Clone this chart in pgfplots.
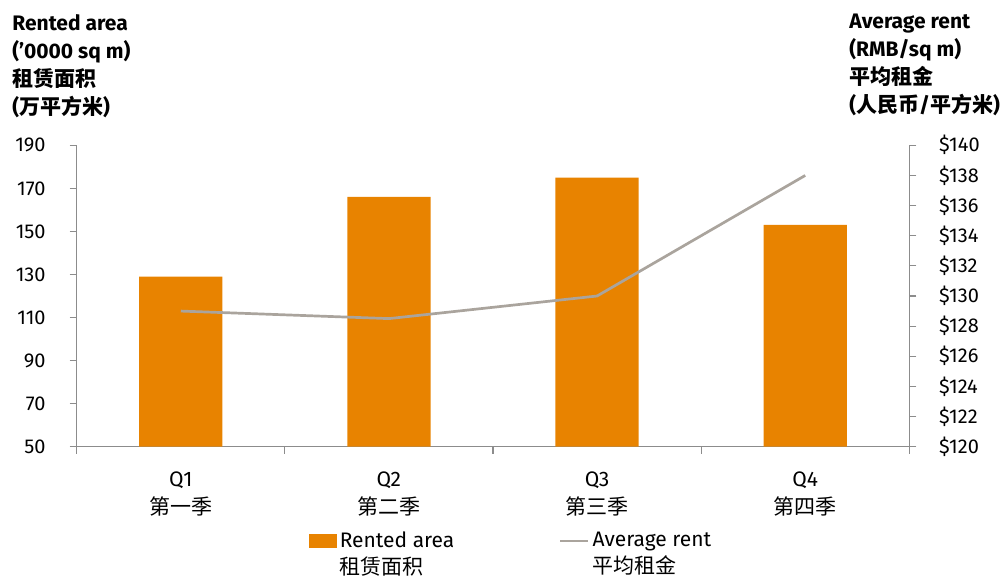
\documentclass[border=0pt]{standalone}
\usepackage{pgfplots}
\pgfplotsset{compat=1.18}
\usepackage{fontspec}
\setmainfont{Fira Sans}
\newfontfamily\cjk{Noto Sans CJK SC}
\definecolor{barorange}{RGB}{232,131,0}
\definecolor{linegray}{RGB}{170,164,157}
\definecolor{axgray}{RGB}{140,140,140}
\begin{document}
\begin{tikzpicture}
\useasboundingbox (-38.35pt,-65.65pt) rectangle (463.65pt,223.35pt);
\begin{axis}[
  at={(0pt,0pt)}, anchor=south west,
  scale only axis, width=416.3pt, height=150.7pt,
  xmin=-0.5, xmax=3.5, ymin=50, ymax=190,
  axis x line*=bottom, axis y line*=left,
  axis line style={axgray, line width=0.6pt, -},
  every tick/.style={axgray, line width=0.6pt},
  tick align=outside, major tick length=3.5pt,
  ytick={50,70,...,190},
  xtick={-0.5,0.5,1.5,2.5,3.5}, xticklabels={},
  extra x ticks={0,1,2,3},
  extra x tick labels={{Q1\\{\cjk 第一季}},{Q2\\{\cjk 第二季}},{Q3\\{\cjk 第三季}},{Q4\\{\cjk 第四季}}},
  extra x tick style={major tick length=0pt, xticklabel style={align=center, font=\fontsize{10.5}{14}\selectfont, yshift=-9pt}},
  yticklabel style={font=\fontsize{10}{12}\selectfont, xshift=-8.5pt, /pgf/number format/assume math mode=true},
  clip=false,
]
\addplot[ybar, bar width=0.4, bar shift=0pt, fill=barorange, draw=none] coordinates {(0,129) (1,166) (2,175) (3,153)};
\end{axis}
\begin{axis}[
  at={(0pt,0pt)}, anchor=south west,
  scale only axis, width=416.3pt, height=150.7pt,
  xmin=-0.5, xmax=3.5, ymin=120, ymax=140,
  axis x line=none, axis y line*=right,
  axis line style={axgray, line width=0.6pt, -},
  every tick/.style={axgray, line width=0.6pt},
  tick align=outside, major tick length=3.5pt,
  ytick={120,122,...,140},
  yticklabel={\$\pgfmathprintnumber{\tick}},
  yticklabel style={font=\fontsize{10}{12}\selectfont, xshift=7.9pt, /pgf/number format/assume math mode=true},
  legend style={at={(0.279,-0.270)}, anchor=north west, draw=none, fill=none, legend columns=2, inner sep=0pt, font=\fontsize{10.5}{13.5}\selectfont, nodes={inner sep=1.5pt}},
  legend cell align=left,
  clip=false,
]
\addlegendimage{legend image code/.code={\fill[barorange] (0pt,-3.3pt) rectangle (13.3pt,3.2pt);}}
\addlegendentry{\parbox[t]{108pt}{Rented area\\{\cjk 租赁面积}}}
\addplot[linegray, line width=1.35pt, mark=none, legend image code/.code={\draw[linegray, line width=1.35pt] (0pt,0pt) -- (14pt,0pt);}] coordinates {(0,129) (1,128.5) (2,130) (3,138)};
\addlegendentry{\parbox[t]{80pt}{Average rent\\{\cjk 平均租金}}}
\end{axis}
\node[anchor=north west, align=left, inner sep=0pt, font=\bfseries\fontsize{10.5}{14}\selectfont] at (-32.35pt,216.35pt) {Rented area\\('0000 sq m)\\{\cjk 租赁面积}\\({\cjk 万平方米})};
\node[anchor=north west, align=left, inner sep=0pt, font=\bfseries\fontsize{10.5}{14}\selectfont] at (386.15pt,216.35pt) {Average rent\\(RMB/sq m)\\{\cjk 平均租金}\\({\cjk 人民币}/{\cjk 平方米})};
\end{tikzpicture}
\end{document}
